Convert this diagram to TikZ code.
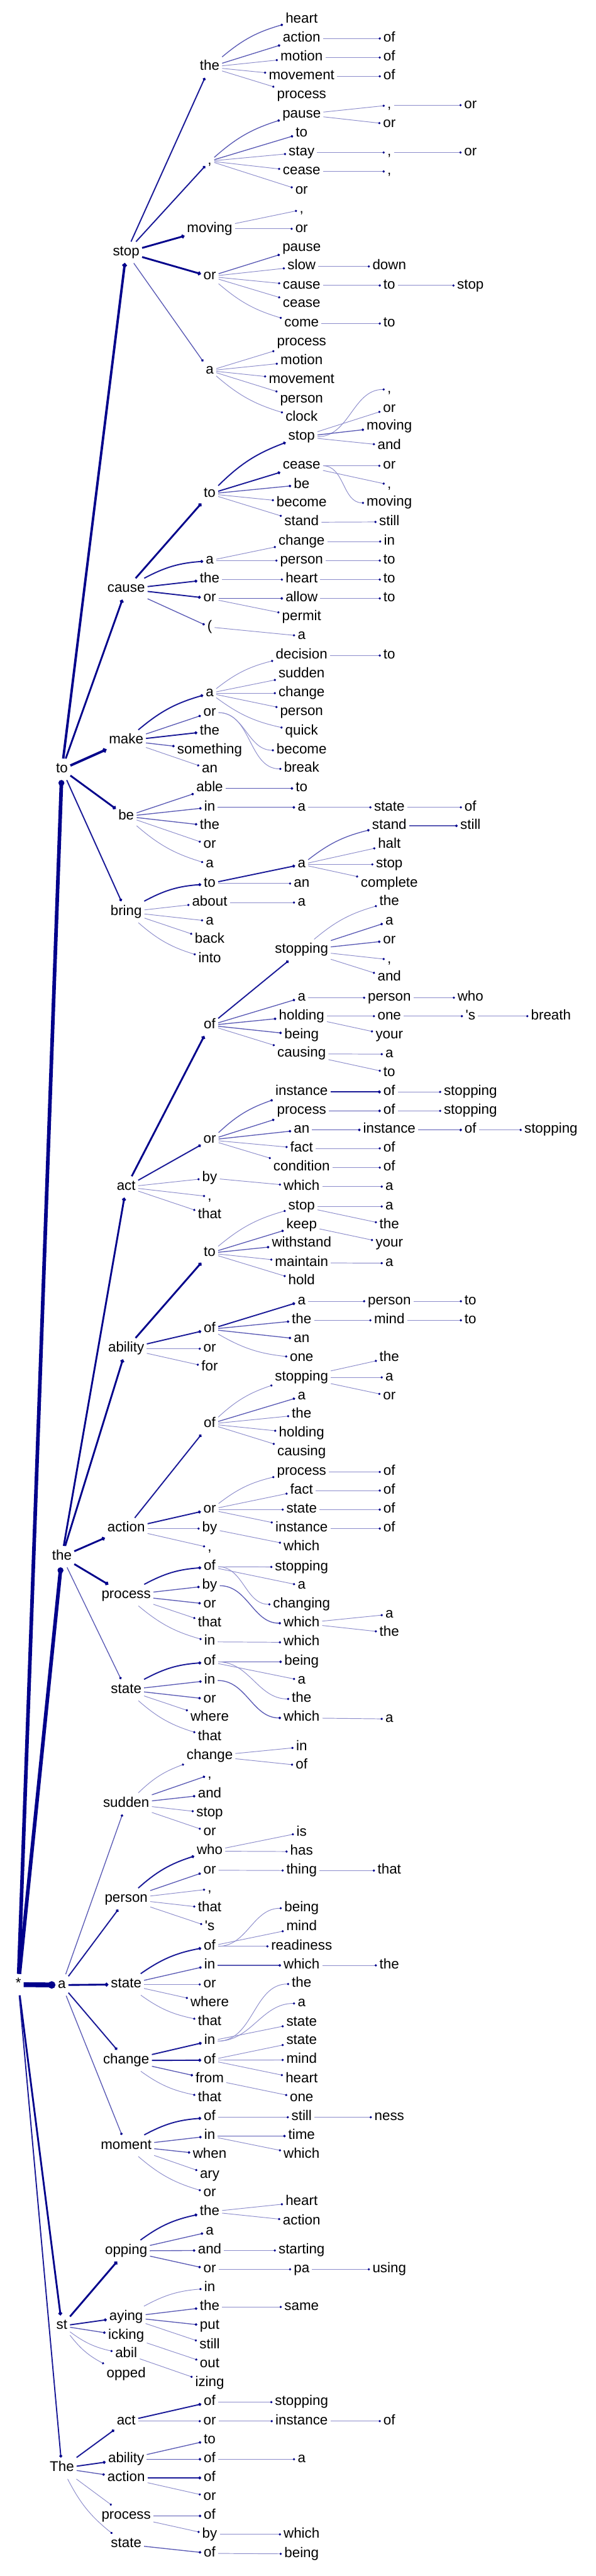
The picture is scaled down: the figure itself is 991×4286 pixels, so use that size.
\documentclass[tikz,border=0pt]{standalone}
\usepackage{fontspec}
\setmainfont{Liberation Sans}
\usepackage{tikz}
\usetikzlibrary{arrows.meta}

\definecolor{navy}{RGB}{0,0,139}

% column positions
\newcommand\xA{30.5}
\newcommand\xB{103}
\newcommand\xC{210}
\newcommand\xD{349}
\newcommand\xE{502}
\newcommand\xF{648}
\newcommand\xG{783}
\newcommand\xH{917}

\begin{document}
\begin{tikzpicture}[x=0.5pt, y=-0.5pt,
    word/.style={font=\fontsize{11.7}{14}\selectfont, inner xsep=2pt, inner ysep=3.5pt, text height=8pt, text depth=2.5pt},
    lnk/.style={-{Circle[length=1.2pt 1.2, color=navy]}},
    e1/.style={lnk, draw=navy!45, line width=0.5pt},
    e2/.style={lnk, draw=navy!65, line width=0.7pt},
    e3/.style={lnk, draw=navy!90, line width=1pt},
    e4/.style={lnk, draw=navy, line width=1.5pt},
    e5/.style={lnk, draw=navy, line width=2pt},
    e6/.style={lnk, draw=navy, line width=3pt},
    e7/.style={lnk, draw=navy, line width=4pt},
    upc/.style={bend left=12},
    loc/.style={bend right=12},
    scurve/.style={out=0, in=180}]

    \useasboundingbox (0,0) rectangle (991,4286);

    % Root and first words
    \node[word] (R) at (\xA,3302) {*};
    \node[word] (T) at (\xB,1280) {to};
    \node[word] (H) at (\xB,2590) {the};
    \node[word] (A) at (\xB,3302.7) {a};
    \node[word] (S) at (\xB,3870) {st};
    \node[word] (E) at (\xB,4106.7) {The};

    \draw[e6] (R) to (T);
    \draw[e6] (R) to (H);
    \draw[e7] (R) to (A);
    \draw[e4] (R) to (S);
    \draw[e3] (R) to (E);

    % ---------------- to ----------------
    \node[word] (T1) at (\xC,420) {stop};
    \node[word] (T2) at (\xC,980) {cause};
    \node[word] (T3) at (\xC,1232.3) {make};
    \node[word] (T4) at (\xC,1358.3) {be};
    \node[word] (T5) at (\xC,1517.3) {bring};
    \draw[e5] (T) to (T1);
    \draw[e4] (T) to (T2);
    \draw[e5] (T) to (T3);
    \draw[e4] (T) to (T4);
    \draw[e3] (T) to (T5);

    % to stop
    \node[word] (T1a) at (\xD,111.7) {the};
    \node[word] (T1b) at (\xD,268) {,};
    \node[word] (T1c) at (\xD,380.7) {moving};
    \node[word] (T1d) at (\xD,460) {or};
    \node[word] (T1e) at (\xD,616.7) {a};
    \draw[e3] (T1) to (T1a);
    \draw[e3] (T1) to (T1b);
    \draw[e4] (T1) to (T1c);
    \draw[e4] (T1) to (T1d);
    \draw[e2] (T1) to (T1e);

    \node[word] (T1a1) at (\xE,32.3) {heart};
    \node[word] (T1a2) at (\xE,64) {action};
    \node[word] (T1a3) at (\xE,95.7) {motion};
    \node[word] (T1a4) at (\xE,127) {movement};
    \node[word] (T1a5) at (\xE,158.7) {process};
    \node[word] (T1a2a) at (\xF,64) {of};
    \node[word] (T1a3a) at (\xF,95.7) {of};
    \node[word] (T1a4a) at (\xF,127) {of};
    \draw[e2,upc] (T1a) to (T1a1);
    \draw[e2] (T1a) to (T1a2);
    \draw[e1] (T1a) to (T1a3);
    \draw[e1] (T1a) to (T1a4);
    \draw[e1] (T1a) to (T1a5);
    \draw[e1] (T1a2) to (T1a2a);
    \draw[e1] (T1a3) to (T1a3a);
    \draw[e1] (T1a4) to (T1a4a);

    \node[word] (T1b1) at (\xE,190.3) {pause};
    \node[word] (T1b2) at (\xE,222) {to};
    \node[word] (T1b3) at (\xE,253.7) {stay};
    \node[word] (T1b4) at (\xE,285.3) {cease};
    \node[word] (T1b5) at (\xE,317) {or};
    \node[word] (T1b1a) at (\xF,175) {,};
    \node[word] (T1b1b) at (\xF,206.7) {or};
    \node[word] (T1b1a1) at (\xG,175) {or};
    \node[word] (T1b3a) at (\xF,253.7) {,};
    \node[word] (T1b3a1) at (\xG,253.7) {or};
    \node[word] (T1b4a) at (\xF,285.3) {,};
    \draw[e2,upc] (T1b) to (T1b1);
    \draw[e2] (T1b) to (T1b2);
    \draw[e1] (T1b) to (T1b3);
    \draw[e1] (T1b) to (T1b4);
    \draw[e1] (T1b) to (T1b5);
    \draw[e1] (T1b1) to (T1b1a);
    \draw[e1] (T1b1) to (T1b1b);
    \draw[e1] (T1b1a) to (T1b1a1);
    \draw[e1] (T1b3) to (T1b3a);
    \draw[e1] (T1b3a) to (T1b3a1);
    \draw[e1] (T1b4) to (T1b4a);

    \node[word] (T1c1) at (\xE,349) {,};
    \node[word] (T1c2) at (\xE,380.7) {or};
    \draw[e1] (T1c) to (T1c1);
    \draw[e1] (T1c) to (T1c2);

    \node[word] (T1d1) at (\xE,412.3) {pause};
    \node[word] (T1d2) at (\xE,443.3) {slow};
    \node[word] (T1d3) at (\xE,475) {cause};
    \node[word] (T1d4) at (\xE,506) {cease};
    \node[word] (T1d5) at (\xE,538.3) {come};
    \node[word] (T1d2a) at (\xF,443.3) {down};
    \node[word] (T1d3a) at (\xF,475) {to};
    \node[word] (T1d3a1) at (\xG,475) {stop};
    \node[word] (T1d5a) at (\xF,538.3) {to};
    \draw[e2] (T1d) to (T1d1);
    \draw[e1] (T1d) to (T1d2);
    \draw[e1] (T1d) to (T1d3);
    \draw[e1] (T1d) to (T1d4);
    \draw[e1,loc] (T1d) to (T1d5);
    \draw[e1] (T1d2) to (T1d2a);
    \draw[e1] (T1d3) to (T1d3a);
    \draw[e1] (T1d3a) to (T1d3a1);
    \draw[e1] (T1d5) to (T1d5a);

    \node[word] (T1e1) at (\xE,570) {process};
    \node[word] (T1e2) at (\xE,601) {motion};
    \node[word] (T1e3) at (\xE,632.7) {movement};
    \node[word] (T1e4) at (\xE,664.3) {person};
    \node[word] (T1e5) at (\xE,695) {clock};
    \draw[e1] (T1e) to (T1e1);
    \draw[e1] (T1e) to (T1e2);
    \draw[e1] (T1e) to (T1e3);
    \draw[e1] (T1e) to (T1e4);
    \draw[e1,loc] (T1e) to (T1e5);

    % to cause
    \node[word] (T2a) at (\xD,821.7) {to};
    \node[word] (T2b) at (\xD,932.7) {a};
    \node[word] (T2c) at (\xD,964.3) {the};
    \node[word] (T2d) at (\xD,995.7) {or};
    \node[word] (T2e) at (\xD,1043.3) {(};
    \draw[e4] (T2) to (T2a);
    \draw[e3,upc] (T2) to (T2b);
    \draw[e3] (T2) to (T2c);
    \draw[e3] (T2) to (T2d);
    \draw[e2] (T2) to (T2e);

    \node[word] (T2a1) at (\xE,726.7) {stop};
    \node[word] (T2a2) at (\xE,775) {cease};
    \node[word] (T2a3) at (\xE,806.7) {be};
    \node[word] (T2a4) at (\xE,837) {become};
    \node[word] (T2a5) at (\xE,869) {stand};
    \node[word] (T2a1a) at (\xF,648) {,};
    \node[word] (T2a1b) at (\xF,680) {or};
    \node[word] (T2a1c) at (\xF,710) {moving};
    \node[word] (T2a1d) at (\xF,741.7) {and};
    \node[word] (T2a2a) at (\xF,775) {or};
    \node[word] (T2a2b) at (\xF,806.7) {,};
    \node[word] (T2a2c) at (\xF,836.7) {moving};
    \node[word] (T2a5a) at (\xF,868.3) {still};
    \draw[e3,upc] (T2a) to (T2a1);
    \draw[e3] (T2a) to (T2a2);
    \draw[e2] (T2a) to (T2a3);
    \draw[e1] (T2a) to (T2a4);
    \draw[e1] (T2a) to (T2a5);
    \draw[e1,scurve] (T2a1) to (T2a1a);
    \draw[e1] (T2a1) to (T2a1b);
    \draw[e2] (T2a1) to (T2a1c);
    \draw[e1] (T2a1) to (T2a1d);
    \draw[e1] (T2a2) to (T2a2a);
    \draw[e1] (T2a2) to (T2a2b);
    \draw[e1,scurve] (T2a2) to (T2a2c);
    \draw[e1] (T2a5) to (T2a5a);

    \node[word] (T2b1) at (\xE,901) {change};
    \node[word] (T2b2) at (\xE,932.7) {person};
    \node[word] (T2b1a) at (\xF,901) {in};
    \node[word] (T2b2a) at (\xF,932.7) {to};
    \node[word] (T2c1) at (\xE,964.3) {heart};
    \node[word] (T2c1a) at (\xF,964.3) {to};
    \node[word] (T2d1) at (\xE,995.7) {allow};
    \node[word] (T2d2) at (\xE,1026.7) {permit};
    \node[word] (T2d1a) at (\xF,995.7) {to};
    \node[word] (T2e1) at (\xE,1058.3) {a};
    \draw[e1] (T2b) to (T2b1);
    \draw[e1] (T2b) to (T2b2);
    \draw[e1] (T2b1) to (T2b1a);
    \draw[e1] (T2b2) to (T2b2a);
    \draw[e1] (T2c) to (T2c1);
    \draw[e1] (T2c1) to (T2c1a);
    \draw[e2] (T2d) to (T2d1);
    \draw[e1] (T2d) to (T2d2);
    \draw[e1] (T2d1) to (T2d1a);
    \draw[e1] (T2e) to (T2e1);

    % to make
    \node[word] (T3a) at (\xD,1153.3) {a};
    \node[word] (T3b) at (\xD,1185.7) {or};
    \node[word] (T3c) at (\xD,1216.7) {the};
    \node[word] (T3d) at (\xD,1248.3) {something};
    \node[word] (T3e) at (\xD,1280) {an};
    \draw[e3,upc] (T3) to (T3a);
    \draw[e2] (T3) to (T3b);
    \draw[e3] (T3) to (T3c);
    \draw[e2] (T3) to (T3d);
    \draw[e1] (T3) to (T3e);

    \node[word] (T3a1) at (\xE,1090.7) {decision};
    \node[word] (T3a2) at (\xE,1122.3) {sudden};
    \node[word] (T3a3) at (\xE,1153.3) {change};
    \node[word] (T3a4) at (\xE,1185) {person};
    \node[word] (T3a5) at (\xE,1216.7) {quick};
    \node[word] (T3a1a) at (\xF,1090.7) {to};
    \node[word] (T3b1) at (\xE,1248.3) {become};
    \node[word] (T3b2) at (\xE,1279.3) {break};
    \draw[e1,upc] (T3a) to (T3a1);
    \draw[e1] (T3a) to (T3a2);
    \draw[e1] (T3a) to (T3a3);
    \draw[e1] (T3a) to (T3a4);
    \draw[e1,loc] (T3a) to (T3a5);
    \draw[e1] (T3a1) to (T3a1a);
    \draw[e1,scurve] (T3b) to (T3b1);
    \draw[e1,scurve] (T3b) to (T3b2);

    % to be
    \node[word] (T4a) at (\xD,1311.7) {able};
    \node[word] (T4b) at (\xD,1343.3) {in};
    \node[word] (T4c) at (\xD,1374) {the};
    \node[word] (T4d) at (\xD,1406) {or};
    \node[word] (T4e) at (\xD,1438.3) {a};
    \node[word] (T4a1) at (\xE,1311.7) {to};
    \node[word] (T4b1) at (\xE,1343.3) {a};
    \node[word] (T4b1a) at (\xF,1343.3) {state};
    \node[word] (T4b1a1) at (\xG,1343.3) {of};
    \draw[e2] (T4) to (T4a);
    \draw[e2] (T4) to (T4b);
    \draw[e2] (T4) to (T4c);
    \draw[e1] (T4) to (T4d);
    \draw[e1,loc] (T4) to (T4e);
    \draw[e2] (T4a) to (T4a1);
    \draw[e2] (T4b) to (T4b1);
    \draw[e1] (T4b1) to (T4b1a);
    \draw[e1] (T4b1a) to (T4b1a1);

    % to bring
    \node[word] (T5a) at (\xD,1470) {to};
    \node[word] (T5b) at (\xD,1501.7) {about};
    \node[word] (T5c) at (\xD,1532.7) {a};
    \node[word] (T5d) at (\xD,1564) {back};
    \node[word] (T5e) at (\xD,1595.7) {into};
    \node[word] (T5a1) at (\xE,1438.3) {a};
    \node[word] (T5a2) at (\xE,1470) {an};
    \node[word] (T5a1a) at (\xF,1374) {stand};
    \node[word] (T5a1b) at (\xF,1406) {halt};
    \node[word] (T5a1c) at (\xF,1438.3) {stop};
    \node[word] (T5a1d) at (\xF,1470) {complete};
    \node[word] (T5a1a1) at (\xG,1374) {still};
    \node[word] (T5b1) at (\xE,1501.7) {a};
    \draw[e3,upc] (T5) to (T5a);
    \draw[e1] (T5) to (T5b);
    \draw[e1] (T5) to (T5c);
    \draw[e1] (T5) to (T5d);
    \draw[e1,loc] (T5) to (T5e);
    \draw[e3] (T5a) to (T5a1);
    \draw[e1] (T5a) to (T5a2);
    \draw[e2,upc] (T5a1) to (T5a1a);
    \draw[e1] (T5a1) to (T5a1b);
    \draw[e1] (T5a1) to (T5a1c);
    \draw[e1] (T5a1) to (T5a1d);
    \draw[e2] (T5a1a) to (T5a1a1);
    \draw[e1] (T5b) to (T5b1);

    % ---------------- the ----------------
    \node[word] (H1) at (\xC,1975) {act};
    \node[word] (H2) at (\xC,2244) {ability};
    \node[word] (H3) at (\xC,2543.3) {action};
    \node[word] (H4) at (\xC,2654) {process};
    \node[word] (H5) at (\xC,2811.7) {state};
    \draw[e4] (H) to (H1);
    \draw[e4] (H) to (H2);
    \draw[e4] (H) to (H3);
    \draw[e4] (H) to (H4);
    \draw[e2] (H) to (H5);

    % the act
    \node[word] (H1a) at (\xD,1706) {of};
    \node[word] (H1b) at (\xD,1896.7) {or};
    \node[word] (H1c) at (\xD,1960) {by};
    \node[word] (H1d) at (\xD,1991) {,};
    \node[word] (H1e) at (\xD,2021.7) {that};
    \draw[e4] (H1) to (H1a);
    \draw[e3] (H1) to (H1b);
    \draw[e1] (H1) to (H1c);
    \draw[e1] (H1) to (H1d);
    \draw[e1] (H1) to (H1e);

    \node[word] (H1a1) at (\xE,1580.7) {stopping};
    \node[word] (H1a2) at (\xE,1660) {a};
    \node[word] (H1a3) at (\xE,1690.7) {holding};
    \node[word] (H1a4) at (\xE,1722.3) {being};
    \node[word] (H1a5) at (\xE,1753.3) {causing};
    \draw[e3] (H1a) to (H1a1);
    \draw[e2] (H1a) to (H1a2);
    \draw[e2] (H1a) to (H1a3);
    \draw[e2] (H1a) to (H1a4);
    \draw[e1] (H1a) to (H1a5);

    \node[word] (H1a1a) at (\xF,1501) {the};
    \node[word] (H1a1b) at (\xF,1533.3) {a};
    \node[word] (H1a1c) at (\xF,1565) {or};
    \node[word] (H1a1d) at (\xF,1596.7) {,};
    \node[word] (H1a1e) at (\xF,1626.7) {and};
    \draw[e1,upc] (H1a1) to (H1a1a);
    \draw[e2] (H1a1) to (H1a1b);
    \draw[e2] (H1a1) to (H1a1c);
    \draw[e1] (H1a1) to (H1a1d);
    \draw[e1] (H1a1) to (H1a1e);

    \node[word] (H1a2a) at (\xF,1660) {person};
    \node[word] (H1a2a1) at (\xG,1660) {who};
    \node[word] (H1a3a) at (\xF,1690.7) {one};
    \node[word] (H1a3a1) at (\xG,1690.7) {\textquotesingle s};
    \node[word] (H1a3a1a) at (\xH,1690.7) {breath};
    \node[word] (H1a3b) at (\xF,1722.3) {your};
    \node[word] (H1a5a) at (\xF,1754) {a};
    \node[word] (H1a5b) at (\xF,1785) {to};
    \draw[e1] (H1a2) to (H1a2a);
    \draw[e1] (H1a2a) to (H1a2a1);
    \draw[e1] (H1a3) to (H1a3a);
    \draw[e1] (H1a3a) to (H1a3a1);
    \draw[e1] (H1a3a1) to (H1a3a1a);
    \draw[e1] (H1a3) to (H1a3b);
    \draw[e1] (H1a5) to (H1a5a);
    \draw[e1] (H1a5) to (H1a5b);

    \node[word] (H1b1) at (\xE,1816.7) {instance};
    \node[word] (H1b2) at (\xE,1848.3) {process};
    \node[word] (H1b3) at (\xE,1880) {an};
    \node[word] (H1b4) at (\xE,1910.7) {fact};
    \node[word] (H1b5) at (\xE,1942.7) {condition};
    \node[word] (H1b1a) at (\xF,1816.7) {of};
    \node[word] (H1b1a1) at (\xG,1816.7) {stopping};
    \node[word] (H1b2a) at (\xF,1848.3) {of};
    \node[word] (H1b2a1) at (\xG,1848.3) {stopping};
    \node[word] (H1b3a) at (\xF,1880) {instance};
    \node[word] (H1b3a1) at (\xG,1880) {of};
    \node[word] (H1b3a1a) at (\xH,1880) {stopping};
    \node[word] (H1b4a) at (\xF,1910.7) {of};
    \node[word] (H1b5a) at (\xF,1942.7) {of};
    \draw[e2,upc] (H1b) to (H1b1);
    \draw[e2] (H1b) to (H1b2);
    \draw[e2] (H1b) to (H1b3);
    \draw[e1] (H1b) to (H1b4);
    \draw[e1] (H1b) to (H1b5);
    \draw[e3] (H1b1) to (H1b1a);
    \draw[e1] (H1b1a) to (H1b1a1);
    \draw[e2] (H1b2) to (H1b2a);
    \draw[e1] (H1b2a) to (H1b2a1);
    \draw[e2] (H1b3) to (H1b3a);
    \draw[e2] (H1b3a) to (H1b3a1);
    \draw[e1] (H1b3a1) to (H1b3a1a);
    \draw[e1] (H1b4) to (H1b4a);
    \draw[e1] (H1b5) to (H1b5a);

    \node[word] (H1c1) at (\xE,1974.3) {which};
    \node[word] (H1c1a) at (\xF,1974.3) {a};
    \draw[e1] (H1c) to (H1c1);
    \draw[e1] (H1c1) to (H1c1a);

    % the ability
    \node[word] (H2a) at (\xD,2085) {to};
    \node[word] (H2b) at (\xD,2211.7) {of};
    \node[word] (H2c) at (\xD,2244) {or};
    \node[word] (H2d) at (\xD,2275) {for};
    \draw[e4] (H2) to (H2a);
    \draw[e3] (H2) to (H2b);
    \draw[e1] (H2) to (H2c);
    \draw[e1] (H2) to (H2d);

    \node[word] (H2a1) at (\xE,2007.3) {stop};
    \node[word] (H2a2) at (\xE,2038.3) {keep};
    \node[word] (H2a3) at (\xE,2069.3) {withstand};
    \node[word] (H2a4) at (\xE,2101) {maintain};
    \node[word] (H2a5) at (\xE,2131.7) {hold};
    \node[word] (H2a1a) at (\xF,2007.3) {a};
    \node[word] (H2a1b) at (\xF,2038.3) {the};
    \node[word] (H2a2a) at (\xF,2069.3) {your};
    \node[word] (H2a4a) at (\xF,2101.7) {a};
    \draw[e1,upc] (H2a) to (H2a1);
    \draw[e2] (H2a) to (H2a2);
    \draw[e2] (H2a) to (H2a3);
    \draw[e1] (H2a) to (H2a4);
    \draw[e1] (H2a) to (H2a5);
    \draw[e1] (H2a1) to (H2a1a);
    \draw[e1] (H2a1) to (H2a1b);
    \draw[e1] (H2a2) to (H2a2a);
    \draw[e1] (H2a4) to (H2a4a);

    \node[word] (H2b1) at (\xE,2165) {a};
    \node[word] (H2b2) at (\xE,2196.7) {the};
    \node[word] (H2b3) at (\xE,2228.3) {an};
    \node[word] (H2b4) at (\xE,2259.3) {one};
    \node[word] (H2b1a) at (\xF,2165) {person};
    \node[word] (H2b1a1) at (\xG,2165) {to};
    \node[word] (H2b2a) at (\xF,2196.7) {mind};
    \node[word] (H2b2a1) at (\xG,2196.7) {to};
    \draw[e3] (H2b) to (H2b1);
    \draw[e2] (H2b) to (H2b2);
    \draw[e2] (H2b) to (H2b3);
    \draw[e1,loc] (H2b) to (H2b4);
    \draw[e1] (H2b1) to (H2b1a);
    \draw[e1] (H2b1a) to (H2b1a1);
    \draw[e1] (H2b2) to (H2b2a);
    \draw[e1] (H2b2a) to (H2b2a1);

    % the action
    \node[word] (H3a) at (\xD,2369.3) {of};
    \node[word] (H3b) at (\xD,2511.7) {or};
    \node[word] (H3c) at (\xD,2543.3) {by};
    \node[word] (H3d) at (\xD,2575) {,};
    \draw[e3] (H3) to (H3a);
    \draw[e3] (H3) to (H3b);
    \draw[e1] (H3) to (H3c);
    \draw[e1] (H3) to (H3d);

    \node[word] (H3a1) at (\xE,2291.7) {stopping};
    \node[word] (H3a2) at (\xE,2323.3) {a};
    \node[word] (H3a3) at (\xE,2354) {the};
    \node[word] (H3a4) at (\xE,2385) {holding};
    \node[word] (H3a5) at (\xE,2416.7) {causing};
    \node[word] (H3a1a) at (\xF,2259.3) {the};
    \node[word] (H3a1b) at (\xF,2291.7) {a};
    \node[word] (H3a1c) at (\xF,2322.7) {or};
    \draw[e1,upc] (H3a) to (H3a1);
    \draw[e2] (H3a) to (H3a2);
    \draw[e1] (H3a) to (H3a3);
    \draw[e1] (H3a) to (H3a4);
    \draw[e1] (H3a) to (H3a5);
    \draw[e1] (H3a1) to (H3a1a);
    \draw[e1] (H3a1) to (H3a1b);
    \draw[e1] (H3a1) to (H3a1c);

    \node[word] (H3b1) at (\xE,2449) {process};
    \node[word] (H3b2) at (\xE,2480) {fact};
    \node[word] (H3b3) at (\xE,2511.7) {state};
    \node[word] (H3b4) at (\xE,2543.3) {instance};
    \node[word] (H3b1a) at (\xF,2449) {of};
    \node[word] (H3b2a) at (\xF,2480) {of};
    \node[word] (H3b3a) at (\xF,2511.7) {of};
    \node[word] (H3b4a) at (\xF,2543.3) {of};
    \draw[e1,upc] (H3b) to (H3b1);
    \draw[e1] (H3b) to (H3b2);
    \draw[e1] (H3b) to (H3b3);
    \draw[e1] (H3b) to (H3b4);
    \draw[e1] (H3b1) to (H3b1a);
    \draw[e1] (H3b2) to (H3b2a);
    \draw[e1] (H3b3) to (H3b3a);
    \draw[e1] (H3b4) to (H3b4a);

    \node[word] (H3c1) at (\xE,2574) {which};
    \draw[e1] (H3c) to (H3c1);

    % the process
    \node[word] (H4a) at (\xD,2606.7) {of};
    \node[word] (H4b) at (\xD,2638.3) {by};
    \node[word] (H4c) at (\xD,2669.3) {or};
    \node[word] (H4d) at (\xD,2700.7) {that};
    \node[word] (H4e) at (\xD,2731.7) {in};
    \draw[e3,upc] (H4) to (H4a);
    \draw[e2] (H4) to (H4b);
    \draw[e2] (H4) to (H4c);
    \draw[e1] (H4) to (H4d);
    \draw[e1,loc] (H4) to (H4e);

    \node[word] (H4a1) at (\xE,2607.3) {stopping};
    \node[word] (H4a2) at (\xE,2638.3) {a};
    \node[word] (H4a3) at (\xE,2669.3) {changing};
    \node[word] (H4b1) at (\xE,2700.7) {which};
    \node[word] (H4b1a) at (\xF,2686) {a};
    \node[word] (H4b1b) at (\xF,2716.7) {the};
    \node[word] (H4e1) at (\xE,2732.7) {which};
    \draw[e1] (H4a) to (H4a1);
    \draw[e1] (H4a) to (H4a2);
    \draw[e1,scurve] (H4a) to (H4a3);
    \draw[e2,scurve] (H4b) to (H4b1);
    \draw[e1] (H4b1) to (H4b1a);
    \draw[e1] (H4b1) to (H4b1b);
    \draw[e1] (H4e) to (H4e1);

    % the state
    \node[word] (H5a) at (\xD,2765) {of};
    \node[word] (H5b) at (\xD,2796) {in};
    \node[word] (H5c) at (\xD,2827.3) {or};
    \node[word] (H5d) at (\xD,2858.3) {where};
    \node[word] (H5e) at (\xD,2890) {that};
    \draw[e3,upc] (H5) to (H5a);
    \draw[e2] (H5) to (H5b);
    \draw[e2] (H5) to (H5c);
    \draw[e1] (H5) to (H5d);
    \draw[e1,loc] (H5) to (H5e);

    \node[word] (H5a1) at (\xE,2765) {being};
    \node[word] (H5a2) at (\xE,2796) {a};
    \node[word] (H5a3) at (\xE,2826.7) {the};
    \node[word] (H5b1) at (\xE,2858.3) {which};
    \node[word] (H5b1a) at (\xF,2860) {a};
    \draw[e2] (H5a) to (H5a1);
    \draw[e1] (H5a) to (H5a2);
    \draw[e1,scurve] (H5a) to (H5a3);
    \draw[e2,scurve] (H5b) to (H5b1);
    \draw[e1] (H5b1) to (H5b1a);

    % ---------------- a ----------------
    \node[word] (A1) at (\xC,3001) {sudden};
    \node[word] (A2) at (\xC,3159.3) {person};
    \node[word] (A3) at (\xC,3301.7) {state};
    \node[word] (A4) at (\xC,3428.3) {change};
    \node[word] (A5) at (\xC,3570) {moment};
    \draw[e2] (A) to (A1);
    \draw[e3] (A) to (A2);
    \draw[e4] (A) to (A3);
    \draw[e3] (A) to (A4);
    \draw[e2] (A) to (A5);

    % a sudden
    \node[word] (A1a) at (\xD,2921.7) {change};
    \node[word] (A1b) at (\xD,2953) {,};
    \node[word] (A1c) at (\xD,2985.7) {and};
    \node[word] (A1d) at (\xD,3016.7) {stop};
    \node[word] (A1e) at (\xD,3048.3) {or};
    \node[word] (A1a1) at (\xE,2906.7) {in};
    \node[word] (A1a2) at (\xE,2937.7) {of};
    \draw[e1,upc] (A1) to (A1a);
    \draw[e2] (A1) to (A1b);
    \draw[e2] (A1) to (A1c);
    \draw[e1] (A1) to (A1d);
    \draw[e1] (A1) to (A1e);
    \draw[e1] (A1a) to (A1a1);
    \draw[e1] (A1a) to (A1a2);

    % a person
    \node[word] (A2a) at (\xD,3080) {who};
    \node[word] (A2b) at (\xD,3111.7) {or};
    \node[word] (A2c) at (\xD,3143) {,};
    \node[word] (A2d) at (\xD,3175) {that};
    \node[word] (A2e) at (\xD,3206) {\textquotesingle s};
    \node[word] (A2a1) at (\xE,3049) {is};
    \node[word] (A2a2) at (\xE,3080.7) {has};
    \node[word] (A2b1) at (\xE,3112.3) {thing};
    \node[word] (A2b1a) at (\xF,3112.3) {that};
    \draw[e3,upc] (A2) to (A2a);
    \draw[e2] (A2) to (A2b);
    \draw[e1] (A2) to (A2c);
    \draw[e1] (A2) to (A2d);
    \draw[e1] (A2) to (A2e);
    \draw[e1] (A2a) to (A2a1);
    \draw[e1] (A2a) to (A2a2);
    \draw[e1] (A2b) to (A2b1);
    \draw[e1] (A2b1) to (A2b1a);

    % a state
    \node[word] (A3a) at (\xD,3238.3) {of};
    \node[word] (A3b) at (\xD,3270) {in};
    \node[word] (A3c) at (\xD,3301.7) {or};
    \node[word] (A3d) at (\xD,3332.7) {where};
    \node[word] (A3e) at (\xD,3364.3) {that};
    \node[word] (A3a1) at (\xE,3175) {being};
    \node[word] (A3a2) at (\xE,3206.7) {mind};
    \node[word] (A3a3) at (\xE,3238.3) {readiness};
    \node[word] (A3b1) at (\xE,3270) {which};
    \node[word] (A3b1a) at (\xF,3270) {the};
    \draw[e3,upc] (A3) to (A3a);
    \draw[e2] (A3) to (A3b);
    \draw[e1] (A3) to (A3c);
    \draw[e1] (A3) to (A3d);
    \draw[e1,loc] (A3) to (A3e);
    \draw[e1,scurve] (A3a) to (A3a1);
    \draw[e1] (A3a) to (A3a2);
    \draw[e1] (A3a) to (A3a3);
    \draw[e2] (A3b) to (A3b1);
    \draw[e1] (A3b1) to (A3b1a);

    % a change
    \node[word] (A4a) at (\xD,3396) {in};
    \node[word] (A4b) at (\xD,3427.7) {of};
    \node[word] (A4c) at (\xD,3459.3) {from};
    \node[word] (A4d) at (\xD,3491) {that};
    \node[word] (A4a1) at (\xE,3301) {the};
    \node[word] (A4a2) at (\xE,3333.3) {a};
    \node[word] (A4a3) at (\xE,3365) {state};
    \node[word] (A4b1) at (\xE,3396) {state};
    \node[word] (A4b2) at (\xE,3427.3) {mind};
    \node[word] (A4b3) at (\xE,3459.3) {heart};
    \node[word] (A4c1) at (\xE,3491) {one};
    \draw[e3] (A4) to (A4a);
    \draw[e3] (A4) to (A4b);
    \draw[e2] (A4) to (A4c);
    \draw[e1,loc] (A4) to (A4d);
    \draw[e1,scurve] (A4a) to (A4a1);
    \draw[e1,scurve] (A4a) to (A4a2);
    \draw[e1] (A4a) to (A4a3);
    \draw[e1] (A4b) to (A4b1);
    \draw[e1] (A4b) to (A4b2);
    \draw[e1] (A4b) to (A4b3);
    \draw[e1] (A4c) to (A4c1);

    % a moment
    \node[word] (A5a) at (\xD,3522.7) {of};
    \node[word] (A5b) at (\xD,3554) {in};
    \node[word] (A5c) at (\xD,3585) {when};
    \node[word] (A5d) at (\xD,3618.3) {ary};
    \node[word] (A5e) at (\xD,3649.3) {or};
    \node[word] (A5a1) at (\xE,3522.7) {still};
    \node[word] (A5a1a) at (\xF,3522.7) {ness};
    \node[word] (A5b1) at (\xE,3554) {time};
    \node[word] (A5b2) at (\xE,3585) {which};
    \draw[e3,upc] (A5) to (A5a);
    \draw[e2] (A5) to (A5b);
    \draw[e2] (A5) to (A5c);
    \draw[e1] (A5) to (A5d);
    \draw[e1,loc] (A5) to (A5e);
    \draw[e1] (A5a) to (A5a1);
    \draw[e1] (A5a1) to (A5a1a);
    \draw[e2] (A5b) to (A5b1);
    \draw[e1] (A5b) to (A5b2);

    % ---------------- st ----------------
    \node[word] (S1) at (\xC,3745) {opping};
    \node[word] (S2) at (\xC,3855) {aying};
    \node[word] (S3) at (\xC,3886.7) {icking};
    \node[word] (S4) at (\xC,3916.7) {abil};
    \node[word] (S5) at (\xC,3950) {opped};
    \draw[e4] (S) to (S1);
    \draw[e3] (S) to (S2);
    \draw[e2] (S) to (S3);
    \draw[e1,loc] (S) to (S4);
    \draw[e1,loc] (S) to (S5);

    \node[word] (S1a) at (\xD,3680) {the};
    \node[word] (S1b) at (\xD,3713.3) {a};
    \node[word] (S1c) at (\xD,3744.3) {and};
    \node[word] (S1d) at (\xD,3775.7) {or};
    \node[word] (S1a1) at (\xE,3664) {heart};
    \node[word] (S1a2) at (\xE,3696) {action};
    \node[word] (S1c1) at (\xE,3744.3) {starting};
    \node[word] (S1d1) at (\xE,3775.7) {pa};
    \node[word] (S1d1a) at (\xF,3775.7) {using};
    \draw[e3,upc] (S1) to (S1a);
    \draw[e2] (S1) to (S1b);
    \draw[e2] (S1) to (S1c);
    \draw[e2] (S1) to (S1d);
    \draw[e1] (S1a) to (S1a1);
    \draw[e1] (S1a) to (S1a2);
    \draw[e1] (S1c) to (S1c1);
    \draw[e1] (S1d) to (S1d1);
    \draw[e1] (S1d1) to (S1d1a);

    \node[word] (S2a) at (\xD,3806.7) {in};
    \node[word] (S2b) at (\xD,3838.3) {the};
    \node[word] (S2c) at (\xD,3870) {put};
    \node[word] (S2d) at (\xD,3901.7) {still};
    \node[word] (S2b1) at (\xE,3838.3) {same};
    \node[word] (S3a) at (\xD,3933.3) {out};
    \node[word] (S4a) at (\xD,3965) {izing};
    \draw[e1,upc] (S2) to (S2a);
    \draw[e2] (S2) to (S2b);
    \draw[e2] (S2) to (S2c);
    \draw[e1] (S2) to (S2d);
    \draw[e1] (S2b) to (S2b1);
    \draw[e1] (S3) to (S3a);
    \draw[e1] (S4) to (S4a);

    % ---------------- The ----------------
    \node[word] (E1) at (\xC,4028.3) {act};
    \node[word] (E2) at (\xC,4091.7) {ability};
    \node[word] (E3) at (\xC,4122.7) {action};
    \node[word] (E4) at (\xC,4186) {process};
    \node[word] (E5) at (\xC,4233.3) {state};
    \draw[e3] (E) to (E1);
    \draw[e3] (E) to (E2);
    \draw[e2] (E) to (E3);
    \draw[e1] (E) to (E4);
    \draw[e1,loc] (E) to (E5);

    \node[word] (E1a) at (\xD,3996.7) {of};
    \node[word] (E1b) at (\xD,4028.3) {or};
    \node[word] (E1a1) at (\xE,3996.7) {stopping};
    \node[word] (E1b1) at (\xE,4028.3) {instance};
    \node[word] (E1b1a) at (\xF,4028.3) {of};
    \node[word] (E2a) at (\xD,4060) {to};
    \node[word] (E2b) at (\xD,4091.7) {of};
    \node[word] (E2b1) at (\xE,4091.7) {a};
    \node[word] (E3a) at (\xD,4122.7) {of};
    \node[word] (E3b) at (\xD,4154) {or};
    \node[word] (E4a) at (\xD,4186) {of};
    \node[word] (E4b) at (\xD,4216.7) {by};
    \node[word] (E4b1) at (\xE,4216.7) {which};
    \node[word] (E5a) at (\xD,4248.3) {of};
    \node[word] (E5a1) at (\xE,4249.3) {being};
    \draw[e3] (E1) to (E1a);
    \draw[e1] (E1) to (E1b);
    \draw[e1] (E1a) to (E1a1);
    \draw[e1] (E1b) to (E1b1);
    \draw[e1] (E1b1) to (E1b1a);
    \draw[e2] (E2) to (E2a);
    \draw[e2] (E2) to (E2b);
    \draw[e1] (E2b) to (E2b1);
    \draw[e3] (E3) to (E3a);
    \draw[e1] (E3) to (E3b);
    \draw[e2] (E4) to (E4a);
    \draw[e1] (E4) to (E4b);
    \draw[e1] (E4b) to (E4b1);
    \draw[e2] (E5) to (E5a);
    \draw[e1] (E5a) to (E5a1);

\end{tikzpicture}
\end{document}
